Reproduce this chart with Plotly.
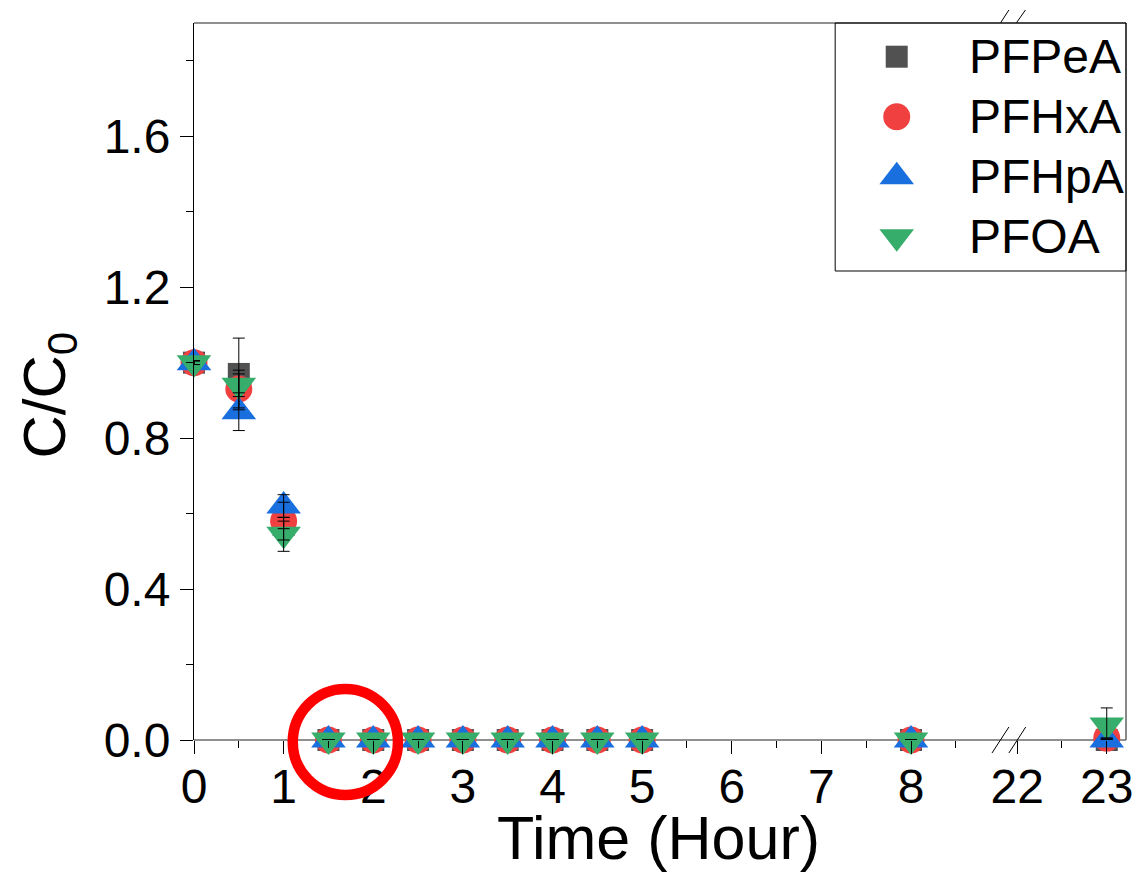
import plotly.graph_objects as go

# ---------------- data ----------------
time_h = [0, 0.5, 1, 1.5, 2, 2.5, 3, 3.5, 4, 4.5, 5, 8, 23]

pfpea     = [1.00, 0.97, 0.57, 0, 0, 0, 0, 0, 0, 0, 0, 0, 0.00]
pfpea_err = [0.005, 0.095, 0.01, 0, 0, 0, 0, 0, 0, 0, 0, 0, 0.0]
pfhxa     = [1.00, 0.93, 0.58, 0, 0, 0, 0, 0, 0, 0, 0, 0, 0.005]
pfhxa_err = [0.005, 0.05, 0.05, 0, 0, 0, 0, 0, 0, 0, 0, 0, 0.0]
pfhpa     = [1.00, 0.87, 0.62, 0, 0, 0, 0, 0, 0, 0, 0, 0, 0.00]
pfhpa_err = [0.005, 0.05, 0.03, 0, 0, 0, 0, 0, 0, 0, 0, 0, 0.0]
pfoa      = [1.00, 0.94, 0.545, 0, 0, 0, 0, 0, 0, 0, 0, 0, 0.04]
pfoa_err  = [0.005, 0.03, 0.045, 0, 0, 0, 0, 0, 0, 0, 0, 0, 0.045]

series_names = ["PFPeA", "PFHxA", "PFHpA", "PFOA"]

x_major_left = [0, 1, 2, 3, 4, 5, 6, 7, 8]
x_minor_left = [0.5, 1.5, 2.5, 3.5, 4.5, 5.5, 6.5, 7.5, 8.5]
x_major_right = [22, 23]
x_minor_right = [22.5]
break_lo, break_hi = 9, 22          # axis break between these hours

# ---------------- style ----------------
FONT = "Liberation Sans, Arial, sans-serif"
W, H = 1145, 873
L, R, T, B = 194, 1133, 23, 740
styles = [("square", "#515151", 22), ("circle", "#F14040", 27),
          ("triangle-up", "#1A6FDF", 30), ("triangle-down", "#37AD6B", 30)]

def px(x):
    return (x - L) / (R - L)

def py(y):
    return (B - y) / (B - T)

dom_split_a = px(1006.7)
dom_split_b = px(1023.3)
right_max = 23 + (R - 1113.6) / 90.3

fig = go.Figure()
values = [pfpea, pfhxa, pfhpa, pfoa]
errors = [pfpea_err, pfhxa_err, pfhpa_err, pfoa_err]

def split(xs, ys, es, left=True):
    out = [(x, y, e) for x, y, e in zip(xs, ys, es)
           if (x <= break_lo if left else x >= break_hi)]
    return [o[0] for o in out], [o[1] for o in out], [o[2] for o in out]

# markers
for name, ys, es, (sym, col, size) in zip(series_names, values, errors, styles):
    for left, xa in ((True, "x"), (False, "x2")):
        xs, yv, ev = split(time_h, ys, es, left)
        fig.add_trace(go.Scatter(
            x=xs, y=yv, mode="markers", name=name, xaxis=xa, yaxis="y",
            marker=dict(symbol=sym, color=col, size=size, line=dict(width=0)),
            showlegend=False, cliponaxis=False, hoverinfo="skip"))

# error bars drawn on top
for name, ys, es in zip(series_names, values, errors):
    for left, xa in ((True, "x"), (False, "x2")):
        xs, yv, ev = split(time_h, ys, es, left)
        fig.add_trace(go.Scatter(
            x=xs, y=yv, mode="markers", xaxis=xa, yaxis="y",
            marker=dict(size=2, opacity=0),
            error_y=dict(type="data", array=ev, color="black", thickness=1, width=6),
            showlegend=False, cliponaxis=False, hoverinfo="skip"))

# legend (drawn on a pixel-scaled overlay so symbols keep their full size)
leg_left, leg_bottom = 840, 271
leg_sym_x, leg_text_x = 902, 973
leg_rows = [56.7, 116.7, 176.7, 236.7]
for name, row, (sym, col, size) in zip(series_names, leg_rows, styles):
    fig.add_trace(go.Scatter(
        x=[leg_sym_x], y=[row], mode="markers", xaxis="x3", yaxis="y3",
        marker=dict(symbol=sym, color=col, size=size, line=dict(width=0)),
        showlegend=False, cliponaxis=False, hoverinfo="skip"))
    fig.add_annotation(text=name, xref="paper", yref="paper",
                       x=px(leg_text_x), y=py(row), xanchor="left", yanchor="middle",
                       showarrow=False, font=dict(family=FONT, size=48, color="black"))
fig.add_shape(type="rect", xref="paper", yref="paper",
              x0=px(leg_left), x1=1, y0=py(leg_bottom), y1=1,
              line=dict(color="black", width=1))

tickfont = dict(family=FONT, size=48, color="black")
common_x = dict(showline=False, showgrid=False, zeroline=False, ticks="outside",
                ticklen=13, tickwidth=1, tickcolor="black", tickfont=tickfont,
                anchor="y", layer="above traces", ticklabelstandoff=-9)

fig.update_layout(
    width=W, height=H, autosize=False, showlegend=False,
    margin=dict(l=L, r=W - R, t=T, b=H - B, pad=0),
    paper_bgcolor="white", plot_bgcolor="rgba(0,0,0,0)",
    font=dict(family=FONT, color="black"),
    xaxis=dict(domain=[0, dom_split_a], range=[0, break_lo], tickmode="array",
               tickvals=x_major_left, ticktext=[str(v) for v in x_major_left],
               minor=dict(tickmode="array", tickvals=x_minor_left, ticks="outside",
                          ticklen=7, tickwidth=1, tickcolor="black"),
               **common_x),
    xaxis2=dict(domain=[dom_split_b, 1], range=[break_hi, right_max], tickmode="array",
                tickvals=x_major_right, ticktext=[str(v) for v in x_major_right],
                minor=dict(tickmode="array", tickvals=x_minor_right, ticks="outside",
                           ticklen=7, tickwidth=1, tickcolor="black"),
                **common_x),
    xaxis3=dict(domain=[0, 1], range=[L, R], visible=False, anchor="y3", fixedrange=True),
    yaxis3=dict(domain=[0, 1], range=[B, T], visible=False, anchor="x3", fixedrange=True),
    yaxis=dict(domain=[0, 1], range=[0, 1.9], anchor="x", tick0=0, dtick=0.4,
               tickformat=".1f", ticks="outside", ticklen=13, tickwidth=1,
               tickcolor="black", showline=True, linecolor="black", linewidth=1,
               showgrid=False, zeroline=False, tickfont=tickfont, ticklabelstandoff=0,
               minor=dict(dtick=0.2, ticks="outside", ticklen=7, tickwidth=1,
                          tickcolor="black")),
)

# axis titles
fig.add_annotation(text="Time (Hour)", xref="paper", yref="paper",
                   x=px(662), y=py(838), xanchor="center", yanchor="middle",
                   showarrow=False, font=dict(family=FONT, size=61, color="black"))
fig.add_annotation(text="C/C<sub>0</sub>", xref="paper", yref="paper",
                   x=px(48), y=py(395.5), xanchor="center", yanchor="middle",
                   textangle=-90, showarrow=False,
                   font=dict(family=FONT, size=60, color="black"))

# frame (bottom, top, right)
frame_col = "#6b6b6b"
for x0, y0, x1, y1 in [(0, 0, 1, 0), (0, 1, 1, 1), (1, 0, 1, 1)]:
    fig.add_shape(type="line", xref="paper", yref="paper", x0=x0, y0=y0, x1=x1, y1=y1,
                  line=dict(color=frame_col, width=1.6), layer="below")

# break marks
for (ax, ay, bx, by) in [(998, 753, 1015, 727), (1015, 753, 1032, 727),
                         (1006.7, 22.7, 1015, 10), (1022.7, 22.7, 1031.7, 10)]:
    fig.add_shape(type="line", xref="paper", yref="paper",
                  x0=px(ax), y0=py(ay), x1=px(bx), y1=py(by),
                  line=dict(color="black", width=1))

# red highlight ring
cx, cy, rr = 346.5, 742, 53
fig.add_shape(type="circle", xref="paper", yref="paper",
              x0=px(cx - rr), x1=px(cx + rr), y0=py(cy + rr), y1=py(cy - rr),
              line=dict(color="#FF0000", width=10.5))

fig.write_html("out.html")
